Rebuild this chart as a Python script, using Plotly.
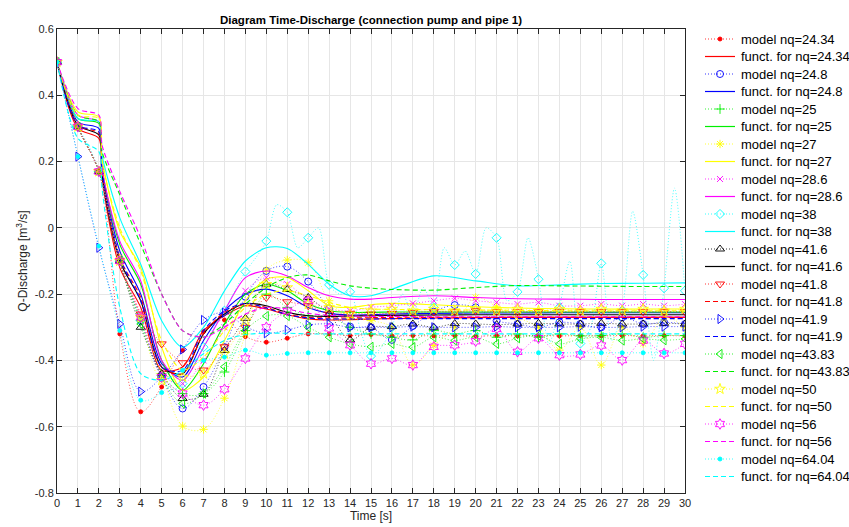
import plotly.graph_objects as go

# ---------------------------------------------------------------------------
# Data: discharge Q [m^3/s] over time [s] for the pump / pipe 1 connection
# ---------------------------------------------------------------------------
time_s = list(range(31))

# sampling times of the fitted functions
t_funct = [0, 1, 2, 2.15, 3, 4, 5, 6, 7, 8, 9, 10, 11, 12, 13, 14, 15, 16,
           18, 20, 22, 24, 26, 28, 30]

nq_values = ["24.34", "24.8", "25", "27", "28.6", "38", "41.6", "41.8",
             "41.9", "43.83", "50", "56", "64.04"]

# model results (one value per second)
model_24_34 = [0.5, 0.305, 0.17, -0.32, -0.555, -0.48, -0.37, -0.313, -0.278, -0.328,
               -0.345, -0.333, -0.32, -0.32, -0.325, -0.322, -0.326, -0.325, -0.326,
               -0.325, -0.327, -0.325, -0.326, -0.325, -0.326, -0.325, -0.326, -0.325,
               -0.326, -0.325, -0.326]
model_24_8 = [0.5, 0.305, 0.17, -0.1, -0.28, -0.45, -0.545, -0.48, -0.36, -0.208,
              -0.13, -0.117, -0.162, -0.243, -0.298, -0.3, -0.338, -0.296, -0.253,
              -0.233, -0.24, -0.28, -0.29, -0.3, -0.285, -0.29, -0.3, -0.27, -0.29,
              -0.285, -0.29]
model_25 = [0.5, 0.305, 0.17, -0.1, -0.28, -0.44, -0.5, -0.5, -0.435, -0.31,
            -0.2, -0.24, -0.265, -0.267, -0.3, -0.32, -0.33, -0.338, -0.31, -0.32,
            -0.31, -0.33, -0.32, -0.33, -0.32, -0.326, -0.325, -0.32, -0.33, -0.325,
            -0.325]
model_27 = [0.5, 0.305, 0.17, -0.09, -0.27, -0.44, -0.598, -0.608, -0.514, -0.32,
            -0.127, -0.097, -0.105, -0.22, -0.27, -0.28, -0.3, -0.414, -0.355, -0.3,
            -0.21, -0.238, -0.27, -0.3, -0.369, -0.3, -0.414, -0.3, -0.349, -0.27,
            -0.3]
model_28_6 = [0.5, 0.305, 0.17, -0.1, -0.26, -0.44, -0.47, -0.4, -0.3, -0.19,
              -0.15, -0.17, -0.215, -0.245, -0.25, -0.24, -0.235, -0.228, -0.22,
              -0.213, -0.22, -0.225, -0.23, -0.225, -0.235, -0.235, -0.23, -0.235,
              -0.23, -0.235, -0.23]
model_38 = [0.5, 0.305, 0.17, -0.1, -0.28, -0.45, -0.47, -0.36, -0.25, -0.132,
            -0.04, 0.047, -0.03, -0.172, -0.193, -0.387, -0.3, -0.26, -0.24, -0.112,
            -0.139, -0.03, -0.193, -0.155, -0.24, -0.349, -0.107, -0.25, -0.142,
            -0.182, -0.19]
model_41_6 = [0.5, 0.305, 0.17, -0.1, -0.3, -0.44, -0.515, -0.502, -0.37, -0.273,
              -0.17, -0.186, -0.21, -0.26, -0.338, -0.3, -0.298, -0.29, -0.3, -0.289,
              -0.29, -0.292, -0.29, -0.288, -0.29, -0.29, -0.288, -0.29, -0.29,
              -0.288, -0.29]
model_41_8 = [0.5, 0.305, 0.17, -0.1, -0.26, -0.35, -0.407, -0.429, -0.359, -0.3,
              -0.21, -0.223, -0.235, -0.26, -0.258, -0.26, -0.258, -0.255, -0.253,
              -0.253, -0.25, -0.253, -0.253, -0.253, -0.253, -0.253, -0.253, -0.253,
              -0.253, -0.253, -0.253]
model_41_9 = [0.5, 0.215, -0.06, -0.29, -0.494, -0.45, -0.367, -0.278, -0.256,
              -0.298, -0.318, -0.308, -0.293, -0.29, -0.3, -0.3, -0.3, -0.298, -0.3,
              -0.3, -0.3, -0.298, -0.3, -0.3, -0.3, -0.298, -0.3, -0.3, -0.298,
              -0.298, -0.298]
model_43_83 = [0.5, 0.305, 0.17, -0.1, -0.29, -0.45, -0.53, -0.5, -0.419, -0.31,
               -0.266, -0.266, -0.3, -0.33, -0.35, -0.359, -0.35, -0.36, -0.33, -0.34,
               -0.33, -0.35, -0.333, -0.325, -0.35, -0.335, -0.33, -0.34, -0.335,
               -0.339, -0.335]
model_50 = [0.5, 0.305, 0.17, -0.1, -0.27, -0.46, -0.45, -0.44, -0.38, -0.28,
            -0.17, -0.18, -0.23, -0.24, -0.26, -0.25, -0.245, -0.25, -0.245, -0.25,
            -0.245, -0.25, -0.245, -0.25, -0.245, -0.25, -0.245, -0.25, -0.245,
            -0.25, -0.245]
model_56 = [0.5, 0.305, 0.17, -0.1, -0.27, -0.45, -0.5, -0.535, -0.487, -0.394,
            -0.3, -0.25, -0.22, -0.303, -0.354, -0.41, -0.394, -0.414, -0.359,
            -0.354, -0.342, -0.305, -0.374, -0.333, -0.384, -0.382, -0.355, -0.399,
            -0.34, -0.379, -0.35]
model_64_04 = [0.5, 0.215, -0.055, -0.31, -0.52, -0.497, -0.43, -0.4, -0.39, -0.369,
               -0.384, -0.379, -0.377, -0.377, -0.377, -0.377, -0.377, -0.377, -0.377,
               -0.377, -0.377, -0.377, -0.377, -0.377, -0.377, -0.377, -0.377, -0.377,
               -0.377, -0.377, -0.377]

# nq=38 model output is also available every half second (oscillating)
t_half = [k / 2 for k in range(61)]
model_38_half = [0.5, 0.41, 0.305, 0.25, 0.17, 0.03, -0.1, -0.19, -0.28, -0.38,
                 -0.45, -0.49, -0.47, -0.42, -0.36, -0.3, -0.25, -0.19, -0.132, -0.09,
                 -0.04, 0.07, 0.047, -0.06, -0.03, 0.0, -0.172, -0.2, -0.193, -0.31,
                 -0.387, -0.36, -0.3, -0.2, -0.26, -0.18, -0.24, -0.06, -0.112, -0.07,
                 -0.139, 0.0, -0.03, -0.22, -0.193, -0.03, -0.155, -0.35, -0.24, -0.1,
                 -0.349, -0.3, -0.107, -0.34, -0.25, 0.05, -0.142, -0.4, -0.182, 0.12,
                 -0.19]

# fitted functions
funct_24_34 = [0.5, 0.30, 0.27, 0.15, -0.12, -0.24, -0.43, -0.42, -0.31, -0.265, -0.235,
               -0.245, -0.262, -0.275, -0.278, -0.277, -0.275, -0.274, -0.272, -0.271,
               -0.27, -0.27, -0.27, -0.27, -0.27]
funct_24_8 = [0.5, 0.32, 0.30, 0.17, -0.07, -0.2, -0.41, -0.45, -0.34, -0.25, -0.2,
              -0.185, -0.205, -0.24, -0.258, -0.263, -0.262, -0.26, -0.258, -0.257,
              -0.257, -0.256, -0.256, -0.256, -0.256]
funct_25 = [0.5, 0.33, 0.315, 0.18, -0.05, -0.17, -0.4, -0.49, -0.41, -0.29, -0.2,
            -0.17, -0.19, -0.23, -0.25, -0.255, -0.255, -0.254, -0.254, -0.254,
            -0.254, -0.254, -0.254, -0.254, -0.254]
funct_27 = [0.5, 0.35, 0.335, 0.21, -0.01, -0.12, -0.36, -0.49, -0.45, -0.34, -0.22,
            -0.155, -0.15, -0.19, -0.235, -0.24, -0.232, -0.228, -0.232, -0.238,
            -0.242, -0.244, -0.245, -0.245, -0.245]
funct_28_6 = [0.5, 0.34, 0.32, 0.18, -0.04, -0.16, -0.4, -0.46, -0.36, -0.25, -0.15,
              -0.13, -0.145, -0.18, -0.205, -0.215, -0.215, -0.21, -0.205, -0.21,
              -0.214, -0.215, -0.216, -0.216, -0.216]
funct_38 = [0.5, 0.33, 0.32, 0.22, 0.03, -0.11, -0.28, -0.36, -0.3, -0.19, -0.1,
            -0.06, -0.062, -0.11, -0.17, -0.205, -0.205, -0.185, -0.145, -0.16,
            -0.175, -0.172, -0.168, -0.167, -0.166]
funct_41_6 = [0.5, 0.31, 0.28, 0.16, -0.1, -0.22, -0.42, -0.44, -0.32, -0.26, -0.228,
              -0.235, -0.255, -0.265, -0.267, -0.266, -0.265, -0.264, -0.263, -0.262,
              -0.262, -0.262, -0.262, -0.262, -0.262]
funct_41_8 = [0.5, 0.31, 0.285, 0.17, -0.09, -0.21, -0.42, -0.44, -0.32, -0.255,
              -0.23, -0.24, -0.26, -0.27, -0.272, -0.272, -0.271, -0.27, -0.27, -0.27,
              -0.27, -0.27, -0.27, -0.27, -0.27]
funct_41_9 = [0.5, 0.31, 0.29, 0.17, -0.09, -0.22, -0.42, -0.43, -0.31, -0.25,
              -0.228, -0.242, -0.262, -0.272, -0.275, -0.275, -0.275, -0.274, -0.274,
              -0.274, -0.274, -0.274, -0.274, -0.274, -0.274]
funct_43_83 = [0.5, 0.34, 0.32, 0.23, 0.1, -0.05, -0.2, -0.31, -0.33, -0.29, -0.23,
               -0.18, -0.15, -0.142, -0.16, -0.175, -0.182, -0.186, -0.188, -0.18,
               -0.174, -0.175, -0.176, -0.177, -0.177]
funct_50 = [0.5, 0.34, 0.33, 0.2, 0.0, -0.13, -0.34, -0.43, -0.39, -0.31, -0.24,
            -0.2, -0.19, -0.205, -0.225, -0.24, -0.245, -0.246, -0.247, -0.248,
            -0.249, -0.25, -0.25, -0.25, -0.25]
funct_56 = [0.5, 0.36, 0.34, 0.25, 0.11, -0.03, -0.2, -0.31, -0.33, -0.3, -0.26,
            -0.24, -0.245, -0.258, -0.264, -0.266, -0.267, -0.267, -0.268, -0.268,
            -0.268, -0.268, -0.268, -0.268, -0.268]
funct_64_04 = [0.5, 0.27, 0.23, 0.12, -0.24, -0.44, -0.46, -0.43, -0.38, -0.34,
               -0.322, -0.318, -0.318, -0.32, -0.32, -0.32, -0.32, -0.32, -0.32, -0.32,
               -0.32, -0.32, -0.32, -0.32, -0.32]

x_ticks = list(range(31))
y_tick_vals = [-0.8, -0.6, -0.4, -0.2, 0, 0.2, 0.4, 0.6]
y_tick_text = ["-0.8", "-0.6", "-0.4", "-0.2", "0", "0.2", "0.4", "0.6"]

# ---------------------------------------------------------------------------
# Series styling
# ---------------------------------------------------------------------------
models = [model_24_34, model_24_8, model_25, model_27, model_28_6, model_38,
          model_41_6, model_41_8, model_41_9, model_43_83, model_50, model_56,
          model_64_04]
functs = [funct_24_34, funct_24_8, funct_25, funct_27, funct_28_6, funct_38,
          funct_41_6, funct_41_8, funct_41_9, funct_43_83, funct_50, funct_56,
          funct_64_04]

colors = ["#ff0000", "#0000ff", "#00ee00", "#ffff00", "#ff00ff", "#00ffff",
          "#000000", "#ff0000", "#0000ff", "#00ee00", "#ffff00", "#ff00ff",
          "#00ffff"]
symbols = ["circle", "circle-open", "cross-thin-open", "asterisk-open",
           "x-thin-open", "diamond-open", "triangle-up-open", "triangle-down-open",
           "triangle-right-open", "triangle-left-open", "star-open",
           "hexagram-open", "circle"]
sizes = [4, 7, 7, 7, 6, 7, 8, 8, 8, 8, 8, 8, 4]
funct_dash = ["solid"] * 7 + ["5px,3px"] * 6
model_dash = "1px,2px"

FONT = "Liberation Sans, Arial, sans-serif"

fig = go.Figure()
for i, nq in enumerate(nq_values):
    c = colors[i]
    mk = dict(symbol=symbols[i], size=sizes[i], color=c, line=dict(color=c, width=0.9))
    if nq == "38":
        # dotted line through the half-second output, markers on full seconds
        fig.add_trace(go.Scatter(
            x=t_half, y=model_38_half, mode="lines",
            line=dict(color=c, width=0.7, dash=model_dash, shape="spline",
                      smoothing=0.8)))
        fig.add_trace(go.Scatter(x=time_s, y=models[i], mode="markers", marker=mk))
    else:
        fig.add_trace(go.Scatter(
            x=time_s, y=models[i], mode="markers+lines", marker=mk,
            line=dict(color=c, width=0.7, dash=model_dash, shape="spline",
                      smoothing=1.0)))
    fig.add_trace(go.Scatter(
        x=t_funct, y=functs[i], mode="lines",
        line=dict(color=c, width=1.1, dash=funct_dash[i], shape="spline",
                  smoothing=0.8)))

# ---------------------------------------------------------------------------
# Legend column, drawn on its own (hidden) axes to the right of the plot
# ---------------------------------------------------------------------------
legend_rows = []
for i, nq in enumerate(nq_values):
    legend_rows.append(("model", i, f"model nq={nq}"))
    legend_rows.append(("funct", i, f"funct. for nq={nq}"))

for row, (kind, i, label) in enumerate(legend_rows):
    c = colors[i]
    if kind == "model":
        fig.add_trace(go.Scatter(
            x=[0, 30], y=[row, row], mode="lines", xaxis="x2", yaxis="y2",
            line=dict(color=c, width=0.8, dash=model_dash)))
        fig.add_trace(go.Scatter(
            x=[15], y=[row], mode="markers", xaxis="x2", yaxis="y2",
            marker=dict(symbol=symbols[i], size=sizes[i], color=c,
                        line=dict(color=c, width=0.9))))
    else:
        fig.add_trace(go.Scatter(
            x=[0, 30], y=[row, row], mode="lines", xaxis="x2", yaxis="y2",
            line=dict(color=c, width=1.2, dash=funct_dash[i])))
    fig.add_annotation(x=34, y=row, xref="x2", yref="y2", text=label,
                       showarrow=False, xanchor="left", yanchor="middle",
                       font=dict(family=FONT, size=13, color="#000000"))

# pixel geometry: plot area 57..685 (x), 29..493 (y); legend rows 17.5 px apart
W, H = 849, 527
plot_w = W - 57
row_h = 17.5
first_row_px = 10  # below the top of the plot area

fig.update_layout(
    width=W, height=H,
    margin=dict(l=57, r=0, t=29, b=34, autoexpand=False),
    paper_bgcolor="white", plot_bgcolor="white",
    font=dict(family=FONT, size=11, color="#262626"),
    showlegend=False,
    title=dict(text="<b>Diagram Time-Discharge (connection pump and pipe 1)</b>",
               x=(628 / 2) / plot_w, xref="paper", xanchor="center",
               y=1 - 20 / H, yref="container", yanchor="middle",
               font=dict(family=FONT, size=11.5, color="#000000")),
    xaxis=dict(
        domain=[0, 628 / plot_w], anchor="y",
        range=[0, 30], tickvals=x_ticks, ticks="inside", ticklen=5, tickcolor="#262626",
        showline=True, linecolor="#262626", linewidth=1, mirror="ticks",
        showgrid=True, gridcolor="#e6e6e6", gridwidth=1, zeroline=False,
        tickfont=dict(family=FONT, size=11, color="#262626"),
        title=dict(text="Time [s]", font=dict(family=FONT, size=12, color="#262626"),
                   standoff=3),
    ),
    yaxis=dict(
        domain=[0, 1], anchor="x",
        range=[-0.8, 0.6], tickvals=y_tick_vals, ticktext=y_tick_text, ticks="inside",
        ticklen=5, tickcolor="#262626",
        showline=True, linecolor="#262626", linewidth=1, mirror="ticks",
        showgrid=True, gridcolor="#e6e6e6", gridwidth=1, zeroline=False,
        tickfont=dict(family=FONT, size=11, color="#262626"),
        title=dict(text="Q-Discharge [m<sup>3</sup>/s]",
                   font=dict(family=FONT, size=12, color="#262626"), standoff=4),
    ),
    xaxis2=dict(domain=[(705 - 57) / plot_w, 1], anchor="y2", range=[0, W - 705],
                visible=False, fixedrange=True),
    yaxis2=dict(domain=[0, 1], anchor="x2",
                range=[(464 - first_row_px) / row_h, -first_row_px / row_h],
                visible=False, fixedrange=True),
)

fig.write_html("out.html")
